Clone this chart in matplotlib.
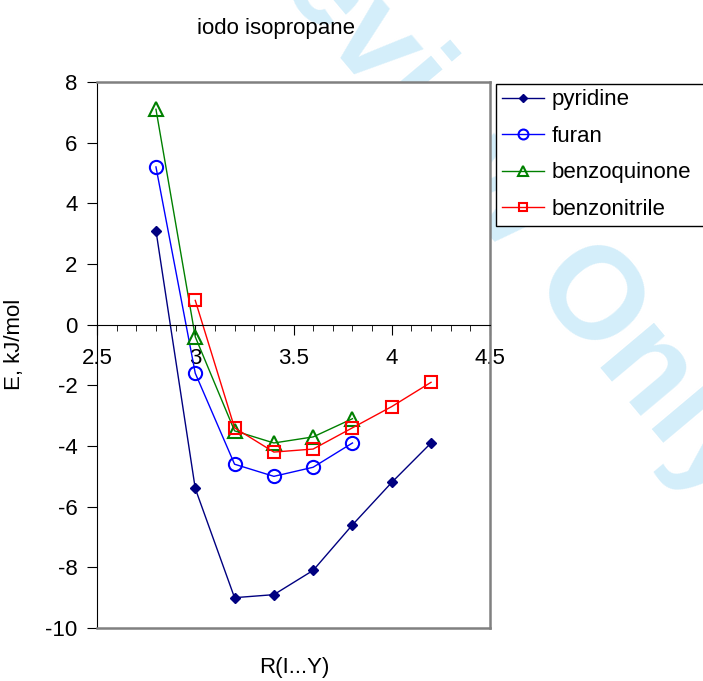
import matplotlib
matplotlib.use("Agg")
import matplotlib.pyplot as plt
from matplotlib.ticker import MultipleLocator

plt.rcParams['font.family'] = ['Liberation Sans', 'DejaVu Sans']
plt.rcParams['axes.unicode_minus'] = False

# data
r_pyridine = [2.8, 3.0, 3.2, 3.4, 3.6, 3.8, 4.0, 4.2]
e_pyridine = [3.1, -5.4, -9.0, -8.9, -8.1, -6.6, -5.2, -3.9]

r_furan = [2.8, 3.0, 3.2, 3.4, 3.6, 3.8]
e_furan = [5.2, -1.6, -4.6, -5.0, -4.7, -3.9]

r_benzoquinone = [2.8, 3.0, 3.2, 3.4, 3.6, 3.8]
e_benzoquinone = [7.1, -0.4, -3.5, -3.9, -3.7, -3.1]

r_benzonitrile = [3.0, 3.2, 3.4, 3.6, 3.8, 4.0, 4.2]
e_benzonitrile = [0.8, -3.4, -4.2, -4.1, -3.4, -2.7, -1.9]

fig = plt.figure(figsize=(7.03, 6.81), dpi=100)

# watermark, drawn behind the axes
fig.text(1.017, 0.258, "For Review Only", fontsize=94, fontweight='bold',
         color='#d4eefa', rotation=-50, rotation_mode='anchor',
         ha='right', va='baseline', zorder=-1)

ax = fig.add_axes([0.138, 0.0778, 0.559, 0.8018])
ax.set_facecolor('white')

ax.plot(r_pyridine, e_pyridine, color='#000080', lw=1, marker='D', ms=5,
        mfc='#000080', mec='#000080', label='pyridine')
ax.plot(r_furan, e_furan, color='#0000ff', lw=1, marker='o', ms=9.5,
        mfc='none', mec='#0000ff', mew=1.5, label='furan')
ax.plot(r_benzoquinone, e_benzoquinone, color='#008000', lw=1, marker='^', ms=10,
        mfc='none', mec='#008000', mew=1.5, label='benzoquinone')
ax.plot(r_benzonitrile, e_benzonitrile, color='#ff0000', lw=1, marker='s', ms=8.5,
        mfc='none', mec='#ff0000', mew=1.5, label='benzonitrile')

ax.set_xlim(2.5, 4.5)
ax.set_ylim(-10, 8)
ax.xaxis.set_major_locator(MultipleLocator(0.5))
ax.xaxis.set_minor_locator(MultipleLocator(0.1))
ax.yaxis.set_major_locator(MultipleLocator(2))
ax.xaxis.set_major_formatter(plt.FuncFormatter(lambda v, p: f"{v:g}"))

for s in ['top', 'right']:
    ax.spines[s].set_color('#808080')
    ax.spines[s].set_linewidth(1.8)
ax.spines['left'].set_color('black')
ax.spines['bottom'].set_position(('data', 0))
ax.spines['bottom'].set_color('black')
# grey frame at the bottom of the plot area
ax.plot([0, 1], [0, 0], transform=ax.transAxes, color='#808080', lw=1.8,
        clip_on=False, zorder=5)

ax.tick_params(axis='x', which='major', direction='out', length=7, pad=10,
               labelsize=16)
ax.tick_params(axis='x', which='minor', direction='out', length=4)
ax.tick_params(axis='y', direction='out', length=7, pad=7, labelsize=16)

fig.text(0.393, 0.958, "iodo isopropane", fontsize=16, ha='center', va='center')
fig.text(0.418, 0.02, "R(I...Y)", fontsize=16, ha='center', va='center')
fig.text(0.02, 0.495, "E, kJ/mol", fontsize=16, ha='center', va='center',
         rotation=90)

leg = ax.legend(loc='upper left', bbox_to_anchor=(0.706, 0.877, 0.31, 0),
                mode='expand', bbox_transform=fig.transFigure, fontsize=16,
                frameon=True, fancybox=False, framealpha=1, borderpad=0.25,
                labelspacing=0.7, handlelength=1.9, handletextpad=0.35,
                borderaxespad=0, markerscale=0.75)
leg.get_frame().set_edgecolor('black')
leg.get_frame().set_linewidth(1)
leg.set_zorder(10)

fig.savefig("out.png", dpi=100)
